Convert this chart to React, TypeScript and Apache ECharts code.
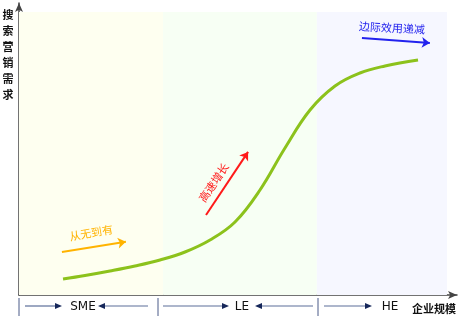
import React, { useEffect, useRef } from "react";
import * as echarts from "echarts";

// Conceptual scale: x = enterprise size (0..100), y = search marketing demand (0..100)
const curveX = [10.05, 15.07, 20.78, 26.48, 32.19, 37.9, 43.61, 49.32, 55.02, 60.73, 66.44, 72.15, 77.85, 83.56, 91.1];
const curveY = [5.48, 6.68, 8.22, 9.93, 11.99, 14.73, 18.84, 25.0, 35.96, 50.34, 63.36, 71.58, 76.03, 78.42, 80.48];

const zoneNames = ["SME", "LE", "HE"];
const zoneBounds = [0, 32.9, 68.0, 97.7];
const zoneTop = 96.9;
const zoneColors = ["#fefff0", "#f7fff4", "#f6f7ff"];

const phaseLabels = ["从无到有", "高速增长", "边际效用递减"];
const phaseColors = ["#ffb300", "#ff1a1a", "#2222ee"];
const phaseArrows: [number, number, number, number][] = [
  [9.8, 14.7, 24.4, 18.2],
  [42.7, 27.4, 52.3, 49.0],
  [78.3, 88.0, 93.8, 86.3],
];

const yAxisTitle = "搜索营销需求";
const xAxisTitle = "企业规模";

export default function App() {
  const ref = useRef<HTMLDivElement>(null);
  useEffect(() => {
    if (!ref.current) return;
    const chart = echarts.init(ref.current, null, { renderer: "svg" });
    const cjk = '"Noto Sans CJK SC", sans-serif';
    const lat = '"DejaVu Sans", sans-serif';

    const markAreaData = zoneNames.map((_, i) => [
      { xAxis: zoneBounds[i], yAxis: 0, itemStyle: { color: zoneColors[i] } },
      { xAxis: zoneBounds[i + 1], yAxis: zoneTop },
    ]);

    const markLineData = phaseArrows.map((a, i) => [
      { coord: [a[0], a[1]], lineStyle: { color: phaseColors[i], width: 2, type: "solid" } },
      { coord: [a[2], a[3]] },
    ]);

    const navy = "#16275a";
    const lineC = "#5d6f99";
    const yB = 306;
    const graphics: any[] = [];
    [19, 158, 318].forEach((x) => {
      graphics.push({ type: "line", z: 100, shape: { x1: x, y1: 298, x2: x, y2: 316 }, style: { stroke: "#4a5a88", lineWidth: 1 } });
    });
    const rightArrows = [[25, 62], [163, 229], [324, 372]];
    const leftArrows = [[148, 98], [313, 255]];
    const addArrow = (x1: number, x2: number) => {
      const dir = x2 > x1 ? 1 : -1;
      graphics.push({ type: "line", z: 100, shape: { x1, y1: yB, x2: x2 - dir * 5, y2: yB }, style: { stroke: lineC, lineWidth: 1.2 } });
      graphics.push({
        type: "polygon", z: 100,
        shape: { points: [[x2, yB], [x2 - dir * 7, yB - 3], [x2 - dir * 7, yB + 3]] },
        style: { fill: navy },
      });
    };
    rightArrows.forEach((a) => addArrow(a[0], a[1]));
    leftArrows.forEach((a) => addArrow(a[0], a[1]));
    const zoneLabelX = [83, 242, 390];
    zoneNames.forEach((n, i) => {
      graphics.push({
        type: "text", z: 100, x: zoneLabelX[i], y: yB,
        style: { text: n, fill: "#111", font: `12px ${lat}`, align: "center", verticalAlign: "middle" },
      });
    });
    graphics.push({
      type: "text", z: 100, x: 434, y: 308,
      style: { text: xAxisTitle, fill: "#111", font: `bold 11px ${cjk}`, align: "center", verticalAlign: "middle" },
    });
    graphics.push({
      type: "text", z: 100, x: 8, y: 6,
      style: { text: yAxisTitle.split("").join("\n"), fill: "#111", font: `bold 11px ${cjk}`, lineHeight: 16, align: "center", verticalAlign: "top" },
    });
    const labelPos = [[91, 232, 0.17], [213, 182, 0.97], [392, 27, -0.05]];
    phaseLabels.forEach((t, i) => {
      graphics.push({
        type: "text", z: 100, x: labelPos[i][0], y: labelPos[i][1], rotation: labelPos[i][2],
        style: { text: t, fill: phaseColors[i], font: `11px ${cjk}`, align: "center", verticalAlign: "middle" },
      });
    });

    chart.setOption({
      animation: false,
      grid: { left: 19, right: 3, top: 3, bottom: 24 },
      xAxis: {
        type: "value", min: 0, max: 100,
        axisLine: { show: true, symbol: ["none", "arrow"], symbolSize: [6, 9], lineStyle: { color: "#444", width: 1.5 } },
        axisTick: { show: false }, axisLabel: { show: false }, splitLine: { show: false },
      },
      yAxis: {
        type: "value", min: 0, max: 100,
        axisLine: { show: true, symbol: ["none", "arrow"], symbolSize: [6, 9], lineStyle: { color: "#444", width: 1.5 } },
        axisTick: { show: false }, axisLabel: { show: false }, splitLine: { show: false },
      },
      series: [
        {
          type: "line",
          data: curveX.map((x, i) => [x, curveY[i]]),
          smooth: 0.4,
          showSymbol: false,
          lineStyle: { color: "#8cc21c", width: 3 },
          z: 5,
          markArea: { silent: true, data: markAreaData, z: 1 },
          markLine: {
            silent: true,
            symbol: ["none", "arrow"],
            symbolSize: 8,
            label: { show: false },
            data: markLineData,
          },
        },
      ],
      graphic: graphics,
    });
    return () => chart.dispose();
  }, []);
  return <div ref={ref} style={{ position: "fixed", left: 0, top: 0, width: 460, height: 319 }} />;
}
